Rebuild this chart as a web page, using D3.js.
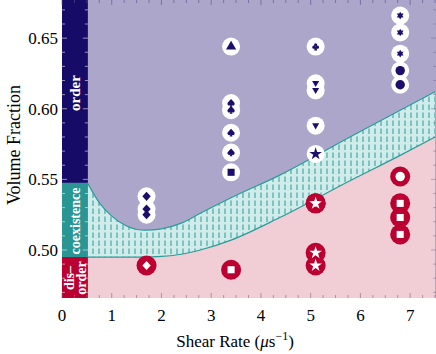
<!DOCTYPE html>
<html>
<head>
<meta charset="utf-8">
<script src="https://cdn.jsdelivr.net/npm/d3@7"></script>
<style>
  body { margin: 0; background: #fff; }
  text { font-family: "Liberation Serif", "DejaVu Serif", serif; }
</style>
</head>
<body>
<svg id="chart" width="436" height="354"></svg>
<script>
// phase boundaries (shear rate, volume fraction)
const boundaryRate = [0.52, 0.76, 1.0, 1.3, 1.67, 2.0, 2.4, 2.78, 3.4, 4.38, 5.79, 6.8, 7.5]
const upperFrac = [0.547, 0.533, 0.524, 0.517, 0.514, 0.515, 0.519, 0.526, 0.537, 0.553, 0.580, 0.599, 0.612]
const lowerFrac = [0.495, 0.495, 0.495, 0.495, 0.495, 0.4955, 0.497, 0.500, 0.507, 0.523, 0.549, 0.567, 0.580]

// left phase bar
const phaseNames = ['order', 'coexistence', 'disorder']
const phaseLow = [0.5475, 0.495, 0.466]
const phaseHigh = [0.677, 0.5475, 0.495]

// ordered samples
const orderRate = [1.7, 1.7, 1.7, 3.4, 3.4, 3.4, 3.4, 3.4, 3.4, 5.1, 5.1, 5.1, 5.1, 5.1, 6.8, 6.8, 6.8, 6.8, 6.8]
const orderFrac = [0.538, 0.529, 0.525, 0.644, 0.604, 0.599, 0.583, 0.569, 0.555, 0.644, 0.618, 0.613, 0.588, 0.568, 0.666, 0.654, 0.639, 0.627, 0.617]
const orderMark = ['diamond', 'diamond', 'diamond', 'triangle', 'spade', 'spade', 'spade', 'spade', 'square', 'club', 'triDown', 'triDown', 'triDown', 'star', 'hexagram', 'hexagram', 'hexagram', 'circle', 'circle']

// disordered samples
const disorderRate = [1.7, 3.4, 5.1, 5.1, 5.1, 5.1, 6.8, 6.8, 6.8, 6.8]
const disorderFrac = [0.489, 0.486, 0.533, 0.533, 0.498, 0.489, 0.552, 0.533, 0.523, 0.511]
const disorderMark = ['diamond', 'square', 'triDown', 'star', 'star', 'star', 'circle', 'square', 'square', 'square']

const xTicks = [0, 1, 2, 3, 4, 5, 6, 7]
const yTicks = [0.50, 0.55, 0.60, 0.65]

const svg = d3.select('#chart')
const plotLeft = 62, plotRight = 435, plotTop = 0, plotBottom = 298

const x = d3.scaleLinear().domain([0, 7.5]).range([plotLeft, plotRight])
const y = d3.scaleLinear().domain([0.466, 0.677]).range([plotBottom, plotTop])

// custom marker shapes
const diamond = {
  draw (ctx, size) {
    const r = Math.sqrt(size) / 2
    ctx.moveTo(0, -r * 1.1)
    ctx.lineTo(r, 0)
    ctx.lineTo(0, r * 1.1)
    ctx.lineTo(-r, 0)
    ctx.closePath()
  }
}
const spade = {
  draw (ctx, size) {
    const r = Math.sqrt(size) / 2
    ctx.moveTo(0, -r * 1.15)
    ctx.bezierCurveTo(r * 0.5, -r * 0.55, r * 1.25, -r * 0.1, r * 0.95, r * 0.45)
    ctx.bezierCurveTo(r * 0.7, r * 0.85, r * 0.25, r * 0.7, r * 0.12, r * 0.4)
    ctx.lineTo(r * 0.4, r * 1.05)
    ctx.lineTo(-r * 0.4, r * 1.05)
    ctx.lineTo(-r * 0.12, r * 0.4)
    ctx.bezierCurveTo(-r * 0.25, r * 0.7, -r * 0.7, r * 0.85, -r * 0.95, r * 0.45)
    ctx.bezierCurveTo(-r * 1.25, -r * 0.1, -r * 0.5, -r * 0.55, 0, -r * 1.15)
    ctx.closePath()
  }
}
const club = {
  draw (ctx, size) {
    const r = Math.sqrt(size) / 2
    const c = r * 0.42
    const centers = [[0, -r * 0.5], [-r * 0.5, r * 0.15], [r * 0.5, r * 0.15]]
    centers.forEach(function (p) {
      ctx.moveTo(p[0] + c, p[1])
      ctx.arc(p[0], p[1], c, 0, 2 * Math.PI)
    })
    ctx.moveTo(-r * 0.12, 0)
    ctx.lineTo(r * 0.12, 0)
    ctx.lineTo(r * 0.4, r * 1.05)
    ctx.lineTo(-r * 0.4, r * 1.05)
    ctx.closePath()
  }
}
const triDown = {
  draw (ctx, size) {
    const r = Math.sqrt(size) / 2 * 1.1
    ctx.moveTo(0, r)
    ctx.lineTo(-r * 0.95, -r * 0.65)
    ctx.lineTo(r * 0.95, -r * 0.65)
    ctx.closePath()
  }
}
const hexagram = {
  draw (ctx, size) {
    const r = Math.sqrt(size) / 2 * 1.15
    for (let k = 0; k < 2; k++) {
      const off = k * Math.PI
      for (let i = 0; i < 3; i++) {
        const a = off - Math.PI / 2 + i * 2 * Math.PI / 3
        if (i === 0) ctx.moveTo(r * Math.cos(a), r * Math.sin(a))
        else ctx.lineTo(r * Math.cos(a), r * Math.sin(a))
      }
      ctx.closePath()
    }
  }
}
const shapes = {
  diamond: [diamond, 70],
  triangle: [d3.symbolTriangle, 45],
  square: [d3.symbolSquare, 50],
  star: [d3.symbolStar, 50],
  circle: [d3.symbolCircle, 70],
  spade: [spade, 50],
  club: [club, 55],
  triDown: [triDown, 45],
  hexagram: [hexagram, 45]
}

// hatch pattern for coexistence band
const defs = svg.append('defs')
const pat = defs.append('pattern')
  .attr('id', 'hatch')
  .attr('patternUnits', 'userSpaceOnUse')
  .attr('width', 6)
  .attr('height', 8)
pat.append('rect').attr('width', 6).attr('height', 8).attr('fill', '#cfebea')
pat.append('line')
  .attr('x1', 3).attr('x2', 3).attr('y1', 0.5).attr('y2', 6)
  .attr('stroke', '#2a9d99').attr('stroke-width', 1)

// background regions
svg.append('rect')
  .attr('x', plotLeft).attr('y', plotTop)
  .attr('width', plotRight + 1 - plotLeft).attr('height', plotBottom - plotTop)
  .attr('fill', '#aca6ca')

const curve = d3.curveMonotoneX
const lowerPts = boundaryRate.map(function (d, i) { return [d, lowerFrac[i]] })
const upperPts = boundaryRate.map(function (d, i) { return [d, upperFrac[i]] })

svg.append('path')
  .datum(lowerPts)
  .attr('fill', '#f1cdd5')
  .attr('d', d3.area().curve(curve)
    .x(function (d) { return x(d[0]) })
    .y0(plotBottom)
    .y1(function (d) { return y(d[1]) }))

svg.append('path')
  .datum(boundaryRate.map(function (d, i) { return [d, lowerFrac[i], upperFrac[i]] }))
  .attr('fill', 'url(#hatch)')
  .attr('d', d3.area().curve(curve)
    .x(function (d) { return x(d[0]) })
    .y0(function (d) { return y(d[1]) })
    .y1(function (d) { return y(d[2]) }))

const line = d3.line().curve(curve)
  .x(function (d) { return x(d[0]) })
  .y(function (d) { return y(d[1]) })
;[lowerPts, upperPts].forEach(function (pts) {
  svg.append('path')
    .datum(pts)
    .attr('fill', 'none')
    .attr('stroke', '#2a9d99')
    .attr('stroke-width', 1.2)
    .attr('d', line)
})

// left phase bar
const barColors = ['#170b68', '#2a9693', '#bb0031']
svg.selectAll('.phase')
  .data(phaseNames)
  .enter().append('rect')
  .attr('class', 'phase')
  .attr('x', plotLeft)
  .attr('width', x(0.52) - plotLeft)
  .attr('y', function (d, i) { return y(phaseHigh[i]) })
  .attr('height', function (d, i) { return y(phaseLow[i]) - y(phaseHigh[i]) })
  .attr('fill', function (d, i) { return barColors[i] })

const barMid = (plotLeft + x(0.52)) / 2
svg.append('text')
  .attr('transform', 'translate(' + (barMid + 5) + ',' + 93 + ') rotate(-90)')
  .attr('text-anchor', 'middle')
  .attr('fill', '#fff')
  .attr('font-weight', 'bold')
  .attr('font-size', 15)
  .text('order')
svg.append('text')
  .attr('transform', 'translate(' + (barMid + 5) + ',' + 221 + ') rotate(-90)')
  .attr('text-anchor', 'middle')
  .attr('fill', '#fff')
  .attr('font-weight', 'bold')
  .attr('font-size', 14)
  .text('coexistence')
const dis = svg.append('text')
  .attr('transform', 'translate(' + (barMid - 1) + ',' + 278 + ') rotate(-90)')
  .attr('text-anchor', 'middle')
  .attr('fill', '#fff')
  .attr('font-weight', 'bold')
  .attr('font-size', 14)
dis.append('tspan').attr('x', 0).attr('dy', 0).text('dis–')
dis.append('tspan').attr('x', 0).attr('dy', 12).text('order')

// minor ticks on the frame
const tickCol = 'rgba(255,255,255,0.55)'
const frameTicks = svg.append('g').attr('stroke-width', 1)
d3.range(0, 7.51, 0.25).forEach(function (t) {
  const big = Math.abs(t - Math.round(t)) < 1e-6
  const len = big ? 5 : 3
  frameTicks.append('line')
    .attr('x1', x(t)).attr('x2', x(t)).attr('y1', 0).attr('y2', len)
    .attr('stroke', 'rgba(90,80,140,0.6)')
  frameTicks.append('line')
    .attr('x1', x(t)).attr('x2', x(t)).attr('y1', plotBottom).attr('y2', plotBottom - len)
    .attr('stroke', 'rgba(150,100,115,0.6)')
})
d3.range(0.47, 0.677, 0.01).forEach(function (t) {
  const big = Math.abs(t * 20 - Math.round(t * 20)) < 1e-6
  const len = big ? 5 : 3
  frameTicks.append('line')
    .attr('x1', plotLeft).attr('x2', plotLeft + len).attr('y1', y(t)).attr('y2', y(t))
    .attr('stroke', tickCol)
  frameTicks.append('line')
    .attr('x1', x(0.52) - len).attr('x2', x(0.52)).attr('y1', y(t)).attr('y2', y(t))
    .attr('stroke', tickCol)
  frameTicks.append('line')
    .attr('x1', plotRight + 1 - len).attr('x2', plotRight + 1).attr('y1', y(t)).attr('y2', y(t))
    .attr('stroke', 'rgba(120,110,150,0.5)')
})

// sample markers
function drawMarkers (rate, frac, mark, back, fore, rad) {
  const g = svg.append('g')
  g.selectAll('circle')
    .data(rate)
    .enter().append('circle')
    .attr('cx', function (d) { return x(d) })
    .attr('cy', function (d, i) { return y(frac[i]) })
    .attr('r', rad)
    .attr('fill', back)
  g.selectAll('path')
    .data(rate)
    .enter().append('path')
    .attr('transform', function (d, i) { return 'translate(' + x(d) + ',' + y(frac[i]) + ')' })
    .attr('d', function (d, i) {
      const s = shapes[mark[i]]
      return d3.symbol().type(s[0]).size(s[1])()
    })
    .attr('fill', fore)
}
drawMarkers(orderRate, orderFrac, orderMark, '#fff', '#1b0f6b', 9)
drawMarkers(disorderRate, disorderFrac, disorderMark, '#bb0031', '#fff', 10)

// tick labels
svg.selectAll('.xt')
  .data(xTicks)
  .enter().append('text')
  .attr('class', 'xt')
  .attr('x', function (d) { return x(d) })
  .attr('y', 321)
  .attr('text-anchor', 'middle')
  .attr('font-size', 17)
  .text(function (d) { return d })

svg.selectAll('.yt')
  .data(yTicks)
  .enter().append('text')
  .attr('class', 'yt')
  .attr('x', 58)
  .attr('y', function (d) { return y(d) + 6 })
  .attr('text-anchor', 'end')
  .attr('font-size', 17)
  .text(function (d) { return d.toFixed(2) })

// axis titles
const xl = svg.append('text')
  .attr('x', 235)
  .attr('y', 347)
  .attr('text-anchor', 'middle')
  .attr('font-size', 17)
xl.append('tspan').text('Shear Rate (')
xl.append('tspan').attr('font-style', 'italic').text('μ')
xl.append('tspan').text('s')
xl.append('tspan').attr('dy', -7).attr('font-size', 12).text('−1')
xl.append('tspan').attr('dy', 7).text(')')

svg.append('text')
  .attr('transform', 'translate(20,145) rotate(-90)')
  .attr('text-anchor', 'middle')
  .attr('font-size', 18)
  .text('Volume Fraction')
</script>
</body>
</html>
